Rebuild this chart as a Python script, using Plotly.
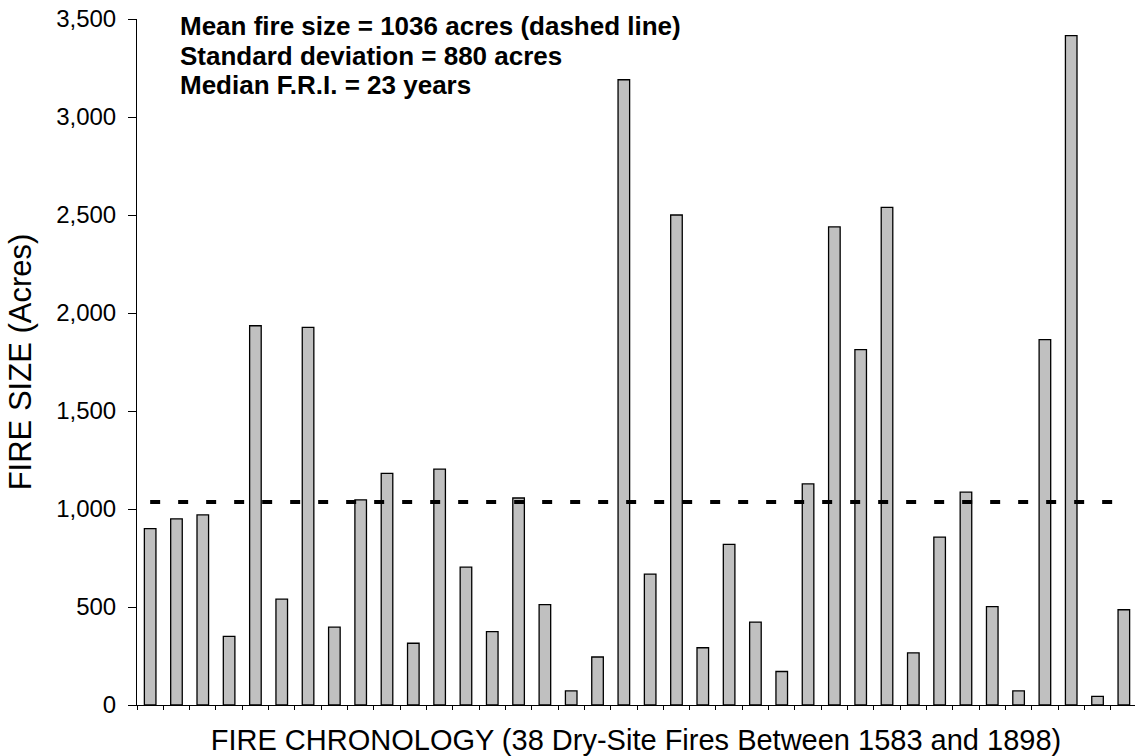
import plotly.graph_objects as go

fire_sizes = [900, 950, 970, 350, 1935, 540, 1927, 397, 1047, 1182,
              315, 1203, 703, 374, 1056, 512, 72, 245, 3190, 668,
              2500, 292, 820, 423, 171, 1128, 2439, 1813, 2539, 266,
              857, 1086, 502, 72, 1864, 3415, 44, 486]
fire_index = list(range(1, len(fire_sizes) + 1))
mean_size = 1036
y_tick_vals = [0, 500, 1000, 1500, 2000, 2500, 3000, 3500]
y_tick_text = ["0", "500", "1,000", "1,500", "2,000", "2,500", "3,000", "3,500"]
info_lines = ["Mean fire size = 1036 acres (dashed line)",
              "Standard deviation = 880 acres",
              "Median F.R.I. = 23 years"]

n = len(fire_sizes)
FONT = "Liberation Sans, Arial, sans-serif"
W, H = 1135, 756
L, T, B = 137, 19, 51
plot_w = W - L
plot_h = H - T - B

fig = go.Figure()
fig.add_trace(go.Bar(
    x=fire_index, y=fire_sizes, width=0.44,
    marker=dict(color="#c0c0c0", line=dict(color="black", width=1.3)),
    showlegend=False, hoverinfo="y"))
fig.add_trace(go.Scatter(
    x=fire_index, y=[mean_size] * n, mode="lines",
    line=dict(color="black", width=4, dash="10px,18px"),
    showlegend=False, hoverinfo="skip"))

boundaries = [i + 0.5 for i in range(0, n + 1)]
fig.update_layout(
    width=W, height=H,
    margin=dict(l=L, r=0, t=T, b=B, autoexpand=False),
    plot_bgcolor="white", paper_bgcolor="white",
    font=dict(family=FONT, color="black"),
    xaxis=dict(
        range=[0.5, n + 0.5 - 2 / 26.3], automargin=False,
        tickmode="array", tickvals=boundaries, ticktext=[""] * len(boundaries),
        ticks="outside", ticklen=4, tickwidth=1, tickcolor="black",
        showline=True, linecolor="black", linewidth=1,
        showgrid=False, zeroline=False,
        title=dict(text="FIRE CHRONOLOGY (38 Dry-Site Fires Between 1583 and 1898)",
                   font=dict(size=29, family=FONT), standoff=18)),
    yaxis=dict(
        range=[0, 3500], automargin=False,
        tickmode="array", tickvals=y_tick_vals, ticktext=y_tick_text,
        ticks="outside", ticklen=8, tickwidth=1, tickcolor="black",
        tickfont=dict(size=24, family=FONT), ticklabelstandoff=7,
        ticklabeloverflow="allow",
        showline=True, linecolor="black", linewidth=1,
        showgrid=False, zeroline=False,
        title=dict(text="FIRE SIZE (Acres)", font=dict(size=31, family=FONT), standoff=15)),
)

line_centers = [26, 56, 85]
for txt, yc in zip(info_lines, line_centers):
    fig.add_annotation(
        text="<b>" + txt + "</b>", xref="paper", yref="paper",
        x=(178 - L) / plot_w, y=1 - (yc - T) / plot_h,
        xanchor="left", yanchor="middle", showarrow=False,
        font=dict(size=26, family=FONT, color="black"))

fig.write_html("out.html", config={"displayModeBar": False},
               post_script="document.body.style.margin='0px';")
